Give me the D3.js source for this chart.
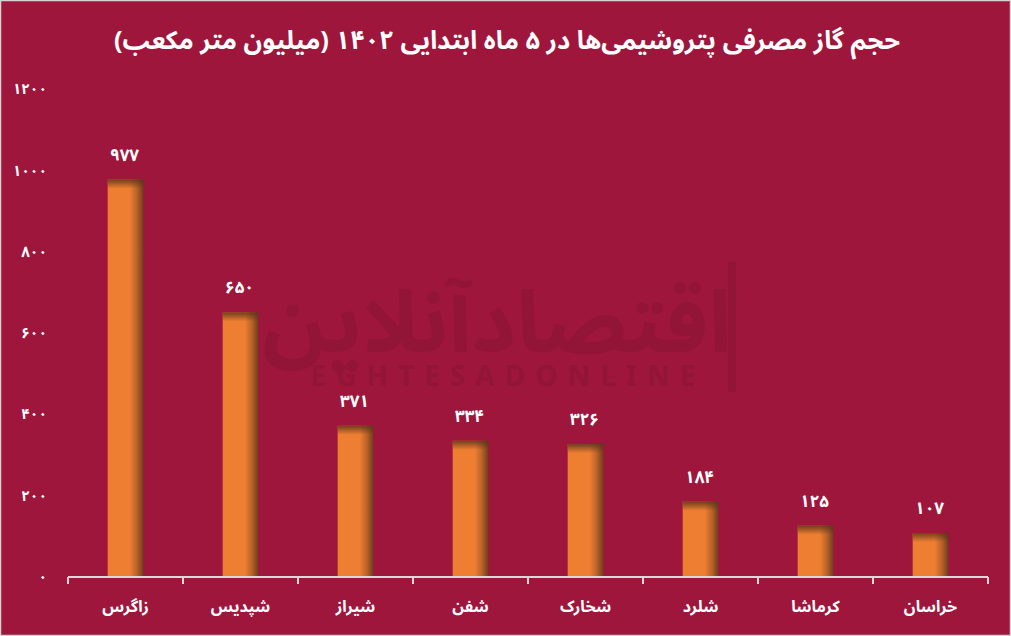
<!DOCTYPE html>
<html>
<head>
<meta charset="utf-8">
<script src="https://cdn.jsdelivr.net/npm/d3@7"></script>
<style>
  html, body { margin: 0; padding: 0; background: #9E163C; }
  svg { display: block; }
  text { font-family: "Noto Sans Arabic", "DejaVu Sans", "Noto Sans", sans-serif; }
</style>
</head>
<body>
<svg id="chart" width="1011" height="636"></svg>
<script>
const title = "حجم گاز مصرفی پتروشیمی‌ها در ۵ ماه ابتدایی ۱۴۰۲ (میلیون متر مکعب)";
const categories = ["زاگرس", "شپدیس", "شیراز", "شفن", "شخارک", "شلرد", "کرماشا", "خراسان"];
const values = [977, 650, 371, 334, 326, 184, 125, 107];
const yTicks = [0, 200, 400, 600, 800, 1000, 1200];

const fa = n => String(n).replace(/[0-9]/g, d => "۰۱۲۳۴۵۶۷۸۹"[+d]);

const W = 1011, H = 636;
const svg = d3.select("#chart");
const bg = "#9E163C";

svg.append("rect").attr("x", 0.5).attr("y", 0.5).attr("width", W - 1).attr("height", H - 1)
  .attr("fill", bg).attr("stroke", "#d4d4d4").attr("stroke-width", 1.5);

const defs = svg.append("defs");
const gh = defs.append("linearGradient").attr("id", "gh").attr("x1", 0).attr("x2", 1).attr("y1", 0).attr("y2", 0);
gh.append("stop").attr("offset", "0%").attr("stop-color", "#EE7E32");
gh.append("stop").attr("offset", "62%").attr("stop-color", "#EE7E32");
gh.append("stop").attr("offset", "82%").attr("stop-color", "#B9622A");
gh.append("stop").attr("offset", "100%").attr("stop-color", "#6E3E1C");
const gv = defs.append("linearGradient").attr("id", "gv").attr("x1", 0).attr("x2", 0).attr("y1", 0).attr("y2", 1);
gv.append("stop").attr("offset", "0%").attr("stop-color", "#5a3418").attr("stop-opacity", 0.85);
gv.append("stop").attr("offset", "100%").attr("stop-color", "#5a3418").attr("stop-opacity", 0);

// watermark
const wm = svg.append("g").attr("opacity", 0.07);
wm.append("text").attr("x", 497).attr("y", 352).attr("text-anchor", "middle")
  .attr("font-size", 86).attr("font-weight", "bold").attr("fill", "#000")
  .text("اقتصادآنلاین");
wm.append("text").attr("x", 508).attr("y", 386).attr("text-anchor", "middle")
  .attr("font-size", 28).attr("font-weight", "bold").attr("letter-spacing", 10).attr("fill", "#000")
  .text("EGHTESADONLINE");
wm.append("rect").attr("x", 728).attr("y", 262).attr("width", 8).attr("height", 130).attr("fill", "#000");

const margin = { left: 68, right: 23, top: 89, bottom: 59 };
const x = d3.scaleBand().domain(categories).range([margin.left, W - margin.right]).paddingInner(0.69).paddingOuter(0.345);
const y = d3.scaleLinear().domain([0, 1200]).range([H - margin.bottom - 0.5, margin.top]);

// title
svg.append("text").attr("x", 507).attr("y", 49).attr("text-anchor", "middle")
  .attr("fill", "#fff").attr("font-size", 25.5).attr("font-weight", "bold")
  .attr("direction", "rtl").text(title);

// y labels
svg.append("g").selectAll("text").data(yTicks).join("text")
  .attr("x", 47).attr("y", d => y(d)).attr("dy", "0.35em").attr("text-anchor", "end")
  .attr("fill", "#fff").attr("font-size", 15).attr("font-weight", "bold")
  .text(d => fa(d));

// bars
const bars = svg.append("g");
bars.selectAll("rect.b").data(values).join("rect").attr("class", "b")
  .attr("x", (d, i) => x(categories[i])).attr("width", x.bandwidth())
  .attr("y", d => y(d)).attr("height", d => y(0) - y(d))
  .attr("fill", "url(#gh)");
bars.selectAll("rect.t").data(values).join("rect").attr("class", "t")
  .attr("x", (d, i) => x(categories[i])).attr("width", x.bandwidth())
  .attr("y", d => y(d)).attr("height", 9)
  .attr("fill", "url(#gv)");

// value labels
svg.append("g").selectAll("text").data(values).join("text")
  .attr("x", (d, i) => x(categories[i]) + x.bandwidth() / 2 - 1)
  .attr("y", d => y(d) - 19).attr("text-anchor", "middle")
  .attr("fill", "#fff").attr("font-size", 17).attr("font-weight", "bold")
  .text(d => fa(d));

// x axis
const step = x.step();
const ax = svg.append("g");
ax.append("line").attr("x1", margin.left).attr("x2", W - margin.right)
  .attr("y1", H - margin.bottom).attr("y2", H - margin.bottom)
  .attr("stroke", "#d9d9d9").attr("stroke-width", 2);
ax.selectAll("line.tk").data(d3.range(categories.length + 1)).join("line").attr("class", "tk")
  .attr("x1", i => margin.left + i * step).attr("x2", i => margin.left + i * step)
  .attr("y1", H - margin.bottom).attr("y2", H - margin.bottom + 7)
  .attr("stroke", "#d9d9d9").attr("stroke-width", 2);
ax.selectAll("text").data(categories).join("text")
  .attr("x", d => x(d) + x.bandwidth() / 2).attr("y", 612).attr("text-anchor", "middle")
  .attr("fill", "#fff").attr("font-size", 16).attr("font-weight", "bold")
  .attr("direction", "rtl").text(d => d);
</script>
</body>
</html>
